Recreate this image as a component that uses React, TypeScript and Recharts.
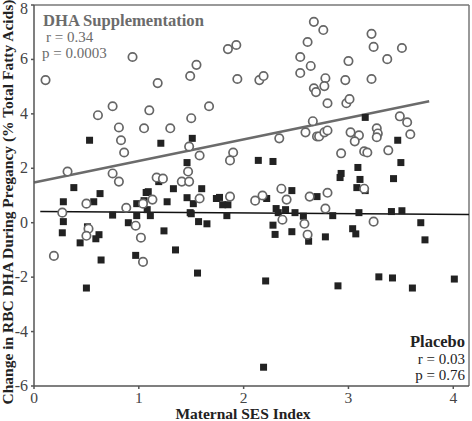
import React from 'react';
import { ScatterChart, Scatter, XAxis, YAxis, ReferenceLine } from 'recharts';

// DHA supplementation group (open circles)
const dhaX = [
  0.11, 0.94, 1.18, 0.75, 0.61, 1.10, 0.81, 1.05, 1.30, 0.83, 0.86, 0.32, 0.75, 0.81,
  1.49, 1.55, 1.50, 1.67, 1.48, 1.58, 1.85, 1.93, 1.94, 1.90, 1.87, 1.17, 1.23, 1.41,
  1.47, 1.48, 1.58, 1.13, 0.50, 0.88, 1.04, 1.87, 0.27, 0.97, 0.52, 0.50, 1.02, 0.19,
  1.04, 2.34, 2.59, 2.70, 2.72, 2.77, 2.80, 2.11, 2.18, 2.36, 2.41, 2.63, 2.80, 2.78,
  2.37, 2.58, 2.61, 2.67, 2.76, 2.61, 2.54, 2.64, 2.54, 2.78, 2.67, 2.69, 2.77, 2.80,
  2.66, 2.15, 2.19, 2.98, 3.01, 3.00, 2.97, 3.22, 3.24, 3.37, 3.51, 3.22, 3.49, 3.56,
  3.59, 3.02, 3.10, 3.06, 3.27, 3.28, 3.27, 2.93, 3.15, 3.18, 3.38, 3.15, 3.24
];
const dhaY = [
  5.24, 6.09, 5.13, 4.28, 3.95, 4.13, 3.50, 3.47, 3.47, 3.03, 2.58, 1.88, 1.81, 1.51,
  5.39, 5.80, 3.84, 4.28, 2.80, 2.47, 6.38, 6.53, 5.28, 2.58, 2.29, 1.66, 1.62, 1.51,
  1.88, 1.51, 0.89, 0.85, 0.70, 0.55, 0.70, 0.96, 0.37, -0.11, -0.22, -0.48, -0.55, -1.22,
  -1.44, 3.10, 3.32, 3.17, 3.17, 3.32, 3.39, 0.81, 1.00, 1.25, 0.85, 0.96, 1.10, 0.52,
  0.11, -0.04, -0.44, 7.38, 7.08, 6.64, 6.09, 5.76, 5.50, 5.31, 4.94, 4.80, 5.02, 4.39,
  3.73, 5.24, 5.39, 4.39, 4.54, 5.94, 5.24, 6.94, 6.46, 6.01, 6.42, 5.28, 3.91, 3.69,
  3.25, 3.32, 3.21, 2.99, 3.47, 3.28, 3.14, 2.55, 2.62, 2.58, 2.66, 1.25, 0.04
];

// Placebo group (filled squares)
const placeboX = [
  0.53, 1.21, 1.51, 1.46, 0.38, 0.63, 0.28, 0.57, 1.07, 1.09, 1.33, 1.60, 1.19, 1.27,
  1.46, 1.52, 1.74, 1.77, 1.80, 1.85, 0.98, 1.05, 1.08, 1.11, 0.75, 0.98, 0.28, 0.27,
  0.90, 0.51, 0.62, 0.59, 0.44, 1.24, 1.35, 0.64, 0.97, 0.50, 1.56, 1.49, 1.50, 1.57,
  1.65, 1.84, 2.14, 2.28, 2.22, 2.46, 2.31, 2.33, 2.40, 2.49, 2.57, 2.28, 2.30, 2.46,
  2.62, 2.78, 2.70, 2.85, 3.10, 3.41, 3.51, 3.04, 3.07, 3.69, 3.73, 2.21, 2.90, 3.29,
  3.42, 3.61, 4.01, 2.19, 3.47, 3.50, 3.09, 2.93, 2.92, 3.11, 3.43, 3.08, 3.16, 3.16
];
const placeboY = [
  3.03, 2.92, 3.10, 2.21, 1.29, 1.07, 0.77, 0.77, 1.11, 1.14, 1.25, 1.25, 1.51, 0.77,
  0.92, 0.70, 0.89, 0.93, 0.66, 0.66, 0.70, 0.81, 0.48, 0.26, 0.28, 0.26, 0.04, -0.37,
  0.00, -0.15, -0.44, -0.59, -0.74, -0.30, -1.00, -1.37, -1.20, -2.40, -1.85, 0.37, 0.33, 0.04,
  -0.04, 0.26, 2.29, 2.25, 0.89, 1.18, 0.52, 0.37, 0.48, 0.37, 0.24, -0.09, -0.43, -0.33,
  -0.68, -0.52, 0.96, 0.26, 0.37, 0.41, 0.44, -0.22, -0.41, 0.00, -0.63, -2.14, -2.32, -1.99,
  -2.03, -2.40, -2.07, -5.31, 3.03, 2.21, 2.03, 1.81, 1.66, 1.59, 1.62, 1.29, 1.18, 3.87
];

// regression line end points [x0, y0, x1, y1]
const dhaFit = [0, 1.48, 3.77, 4.46];
const placeboFit = [0.06, 0.41, 4.15, 0.3];

const xTicks = [0, 1, 2, 3, 4];
const yTicks = [-6, -4, -2, 0, 2, 4, 6, 8];

const dhaData = dhaX.map((x, i) => ({ x, y: dhaY[i] }));
const placeboData = placeboX.map((x, i) => ({ x, y: placeboY[i] }));

const serif = '"Liberation Serif", "Times New Roman", serif';

const OpenCircle = (p: any) => (
  <circle cx={p.cx} cy={p.cy} r={4.2} fill="#fff" stroke="#666" strokeWidth={1.7} />
);
const Square = (p: any) => (
  <rect x={p.cx - 3.5} y={p.cy - 3.5} width={7} height={7} fill="#222" />
);

const XTick = (p: any) => (
  <text x={p.x} y={p.y + 10} textAnchor="middle" fontFamily={serif} fontSize={15.5} fill="#444">
    {p.payload.value}
  </text>
);
const YTick = (p: any) => (
  <text x={p.x} y={p.y + 5} textAnchor="end" fontFamily={serif} fontSize={16} fill="#444">
    {p.payload.value}
  </text>
);

const App: React.FC = () => {
  return (
    <div style={{ position: 'absolute', left: 0, top: 0, width: 472, height: 421, background: '#fff' }}>
      <ScatterChart width={472} height={421} margin={{ top: 5, right: 3, bottom: 0, left: 0 }}>
        <XAxis
          type="number"
          dataKey="x"
          domain={[0, 4.15]}
          ticks={xTicks}
          tick={XTick}
          tickSize={3}
          tickMargin={4}
          height={35}
          stroke="#555"
          strokeWidth={1.5}
          allowDataOverflow
        />
        <YAxis
          type="number"
          dataKey="y"
          domain={[-6, 8]}
          ticks={yTicks}
          tick={YTick}
          tickSize={3}
          tickMargin={3}
          width={34}
          stroke="#555"
          strokeWidth={1.5}
          allowDataOverflow
        />
        <ReferenceLine y={8} stroke="#777" strokeWidth={1.5} />
        <ReferenceLine x={4.15} stroke="#777" strokeWidth={1.5} />
        <ReferenceLine
          segment={[{ x: dhaFit[0], y: dhaFit[1] }, { x: dhaFit[2], y: dhaFit[3] }]}
          stroke="#6b6b6b"
          strokeWidth={2.5}
        />
        <ReferenceLine
          segment={[{ x: placeboFit[0], y: placeboFit[1] }, { x: placeboFit[2], y: placeboFit[3] }]}
          stroke="#111"
          strokeWidth={1.5}
        />
        <Scatter data={placeboData} shape={Square} isAnimationActive={false} />
        <Scatter data={dhaData} shape={OpenCircle} isAnimationActive={false} />
        <text x={43} y={26} fontFamily={serif} fontSize={16.6} fontWeight="bold" fill="#6b6b6b">DHA Supplementation</text>
        <text x={46} y={42} fontFamily={serif} fontSize={15} fill="#6b6b6b">r = 0.34</text>
        <text x={42} y={58} fontFamily={serif} fontSize={15} fill="#6b6b6b">p = 0.0003</text>
        <text x={465} y={347} textAnchor="end" fontFamily={serif} fontSize={16.5} fontWeight="bold" fill="#222">Placebo</text>
        <text x={465} y={364} textAnchor="end" fontFamily={serif} fontSize={15} fill="#222">r = 0.03</text>
        <text x={465} y={380} textAnchor="end" fontFamily={serif} fontSize={15} fill="#222">p = 0.76</text>
        <text x={243} y={419} textAnchor="middle" fontFamily={serif} fontSize={15.5} fontWeight="bold" fill="#222">Maternal SES Index</text>
        <text
          x={13}
          y={202}
          transform="rotate(-90 13 202)"
          textAnchor="middle"
          fontFamily={serif}
          fontSize={15.5}
          fontWeight="bold"
          fill="#222"
        >
          Change in RBC DHA During Pregancy (% Total Fatty Acids)
        </text>
      </ScatterChart>
    </div>
  );
};

export default App;
